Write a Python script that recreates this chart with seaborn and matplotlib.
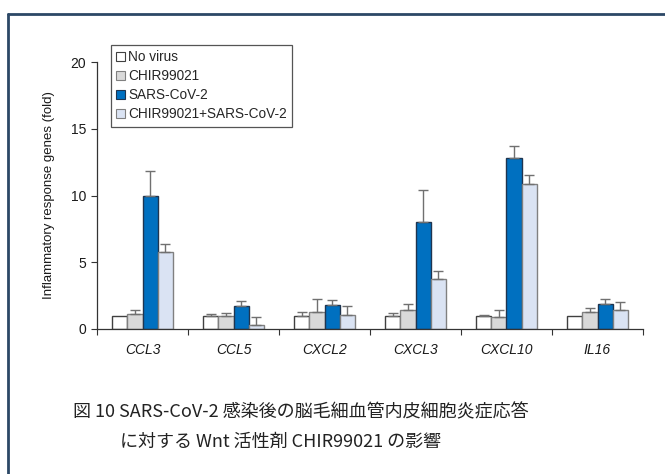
import matplotlib
matplotlib.use("Agg")
import matplotlib.pyplot as plt
from matplotlib.patches import Patch
from matplotlib.lines import Line2D
import numpy as np
import pandas as pd
import seaborn as sns

genes = ["CCL3", "CCL5", "CXCL2", "CXCL3", "CXCL10", "IL16"]
conditions = ["No virus", "CHIR99021", "SARS-CoV-2", "CHIR99021+SARS-CoV-2"]

no_virus = [1.0, 1.0, 1.0, 1.0, 1.0, 1.0]
chir = [1.12, 1.0, 1.30, 1.40, 0.92, 1.25]
sars = [10.0, 1.70, 1.77, 8.04, 12.83, 1.90]
chir_sars = [5.80, 0.28, 1.07, 3.75, 10.86, 1.40]

no_virus_err = [0.0, 0.10, 0.30, 0.17, 0.05, 0.0]
chir_err = [0.30, 0.17, 0.92, 0.50, 0.53, 0.30]
sars_err = [1.80, 0.37, 0.38, 2.35, 0.90, 0.37]
chir_sars_err = [0.57, 0.64, 0.63, 0.62, 0.65, 0.60]

fills = ["#ffffff", "#d9d9d9", "#0070c0", "#dae3f3"]
edges = ["#404040", "#808080", "#1f3550", "#808080"]

caption_1 = "図 10 SARS-CoV-2 感染後の脳毛細血管内皮細胞炎症応答"
caption_2 = "に対する Wnt 活性剤 CHIR99021 の影響"

sns.set_theme(style="white")
plt.rcParams["font.family"] = ["Liberation Sans", "DejaVu Sans"]

means = [no_virus, chir, sars, chir_sars]
errs = [no_virus_err, chir_err, sars_err, chir_sars_err]
df = pd.DataFrame({
    "gene": np.tile(genes, len(conditions)),
    "condition": np.repeat(conditions, len(genes)),
    "value": np.concatenate(means),
})

W, H = 665, 474
fig = plt.figure(figsize=(W / 100, H / 100), dpi=100)
ax = fig.add_axes([97 / W, 1 - 329 / H, 546 / W, 267 / H])

sns.barplot(data=df, x="gene", y="value", hue="condition", order=genes,
            hue_order=conditions, palette=fills, width=0.66, gap=0,
            errorbar=None, legend=False, ax=ax, linewidth=1.0, saturation=1)

for container, ec, err in zip(ax.containers, edges, errs):
    for bar, e in zip(container, err):
        bar.set_edgecolor(ec)
        bar.set_linewidth(1.0)
        x = bar.get_x() + bar.get_width() / 2
        h = bar.get_height()
        if e > 0:
            ax.errorbar(x, h, yerr=[[0], [e]], fmt="none", ecolor="#707070",
                        elinewidth=1.0, capsize=3.5, capthick=1.0, zorder=1)

ax.set_xlim(-0.5, len(genes) - 0.5)
ax.set_ylim(0, 20)
ax.set_yticks([0, 5, 10, 15, 20])
ax.set_xticks(range(len(genes)))
ax.set_xticklabels(genes, fontstyle="italic", fontsize=10, color="#1a1a1a")
ax.set_xticks(np.arange(-0.5, len(genes)), minor=True)
ax.tick_params(axis="x", which="major", length=0, pad=10)
ax.tick_params(axis="x", which="minor", length=4, width=0.8, color="#333333",
               direction="out", bottom=True)
ax.tick_params(axis="y", length=4, width=0.8, color="#333333", direction="out",
               left=True, labelsize=10, labelcolor="#1a1a1a", pad=4)
ax.set_xlabel("")
ax.set_ylabel("Inflammatory response genes (fold)", fontsize=9.5, color="#1a1a1a",
              labelpad=11)
for side in ("top", "right"):
    ax.spines[side].set_visible(False)
for side in ("left", "bottom"):
    ax.spines[side].set_color("#333333")
    ax.spines[side].set_linewidth(0.9)

handles = [Patch(facecolor=f, edgecolor=e, linewidth=0.8) for f, e in zip(fills, edges)]
leg = fig.legend(handles, conditions, loc="upper left",
                 bbox_to_anchor=(111 / W, 1 - 45 / H), fontsize=9.8,
                 handlelength=0.65, handleheight=0.65, handletextpad=0.2,
                 labelspacing=0.36, borderpad=0.4, borderaxespad=0,
                 fancybox=False, framealpha=1, edgecolor="#555555")
leg.get_frame().set_linewidth(0.9)

# outer frame running off the right and bottom edges
fig.add_artist(Line2D([8 / W, 8 / W], [1 - 14 / H, 0], color="#2c4866",
                      linewidth=2.0, transform=fig.transFigure))
fig.add_artist(Line2D([8 / W, 1], [1 - 14 / H, 1 - 14 / H], color="#2c4866",
                      linewidth=2.0, transform=fig.transFigure))

cjk = ["Noto Sans CJK JP", "DejaVu Sans"]
fig.text(73 / W, 1 - 412 / H, caption_1, family=cjk, fontsize=13,
         color="#222222", va="center", ha="left")
fig.text(120 / W, 1 - 442 / H, caption_2, family=cjk, fontsize=13,
         color="#222222", va="center", ha="left")

fig.savefig("out.png", dpi=100, facecolor="white")
